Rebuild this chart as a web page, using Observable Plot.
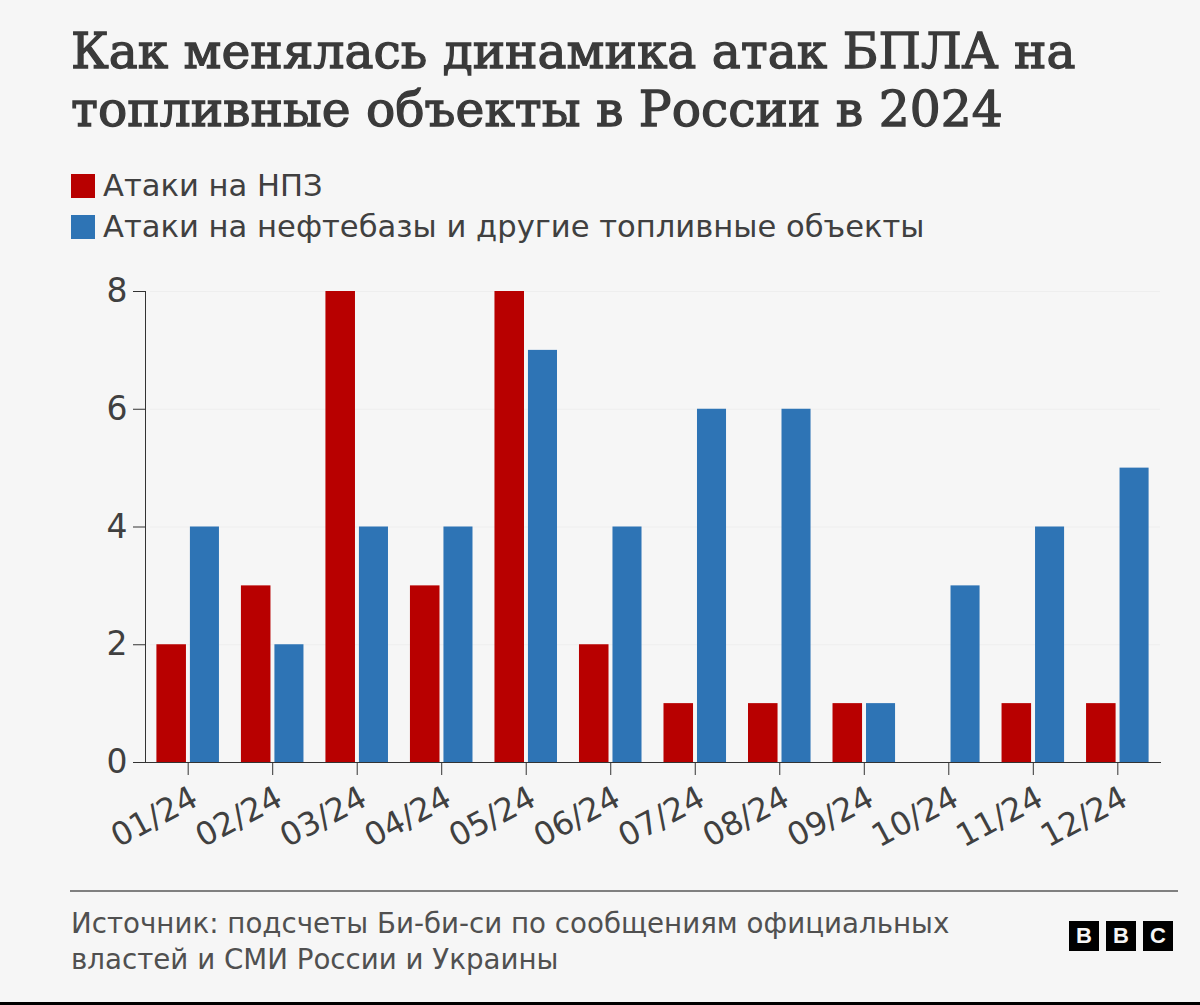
<!DOCTYPE html>
<html lang="ru">
<head>
<meta charset="utf-8">
<script src="https://cdn.jsdelivr.net/npm/d3@7"></script>
<script src="https://cdn.jsdelivr.net/npm/@observablehq/plot@0.6"></script>
<style>
  html, body { margin: 0; background: #f6f6f6; }
  body { position: relative; width: 1200px; height: 1005px; overflow: hidden; font-family: "DejaVu Sans", sans-serif; color: #404040; }
  h1 { position: absolute; left: 71px; top: 22px; margin: 0; width: 1120px; font: normal 48.7px/58px "DejaVu Serif", serif; -webkit-text-stroke: 1.3px #3a3a3a; color: #3a3a3a; }
  .legend { position: absolute; left: 71px; top: 165px; font-size: 30.6px; line-height: 41px; }
  .legend div { display: flex; align-items: center; }
  .legend i { width: 24px; height: 24px; margin-right: 8px; }
  #chart { position: absolute; left: 0; top: 270px; }
  .rule { position: absolute; left: 70px; top: 890px; width: 1108px; height: 2px; background: #808080; }
  .source { position: absolute; left: 71px; top: 906px; font-size: 27.7px; line-height: 36px; color: #505050; white-space: nowrap; }
  .logo { position: absolute; left: 1069px; top: 921px; display: flex; gap: 7px; }
  .logo span { width: 30px; height: 30px; background: #000; color: #f6f6f6; font: bold 22px/30px "Liberation Sans", sans-serif; text-align: center; }
  .bottom { position: absolute; left: 0; top: 1002px; width: 1200px; height: 3px; background: #000; }
</style>
</head>
<body>
<h1>Как менялась динамика атак БПЛА на топливные объекты в России в 2024</h1>
<div class="legend">
  <div><i style="background:#b80000"></i>Атаки на НПЗ</div>
  <div><i style="background:#2e74b5"></i>Атаки на нефтебазы и другие топливные объекты</div>
</div>
<div id="chart"></div>
<div class="rule"></div>
<div class="source">Источник: подсчеты Би-би-си по сообщениям официальных<br>властей и СМИ России и Украины</div>
<div class="logo"><span>B</span><span>B</span><span>C</span></div>
<div class="bottom"></div>
<script>
const months = ["01/24", "02/24", "03/24", "04/24", "05/24", "06/24", "07/24", "08/24", "09/24", "10/24", "11/24", "12/24"];
const refineries = [2, 3, 8, 3, 8, 2, 1, 1, 1, 0, 1, 1];
const depots = [4, 2, 4, 4, 7, 4, 6, 6, 1, 3, 4, 5];
const yTicks = [0, 2, 4, 6, 8];

const refineryRows = months.map((month, i) => ({month, value: refineries[i]}));
const depotRows = months.map((month, i) => ({month, value: depots[i]}));

document.querySelector("#chart").append(
  Plot.plot({
    width: 1200,
    height: 610,
    marginLeft: 145,
    marginRight: 40,
    marginTop: 21,
    marginBottom: 118,
    style: {background: "transparent", overflow: "visible", fontFamily: "'DejaVu Sans', sans-serif"},
    x: {domain: months, paddingInner: 0.26, paddingOuter: 0.135, round: false, label: null},
    y: {domain: [0, 8], label: null},
    marks: [
      Plot.ruleY(yTicks.slice(1), {stroke: "#eeeeee", insetLeft: 5}),
      Plot.barY(refineryRows, {x: "month", y: "value", fill: "#b80000", insetRight: 33}),
      Plot.barY(depotRows, {x: "month", y: "value", fill: "#2e74b5", insetLeft: 33.5}),
      Plot.frame({anchor: "left", stroke: "#333"}),
      Plot.frame({anchor: "bottom", stroke: "#333"}),
      Plot.axisY({ticks: yTicks, tickSize: 12, tickPadding: 6, fontSize: 33, color: "#404040", stroke: "#333"}),
      // ticks and labels apart, the labels sit a little right of the tick
      Plot.axisX({tickSize: 13, text: null, stroke: "#333"}),
      Plot.axisX({tickSize: 0, tickPadding: 33, dx: 7, tickRotate: -28, fontSize: 32, color: "#404040"})
    ]
  })
);
</script>
</body>
</html>
